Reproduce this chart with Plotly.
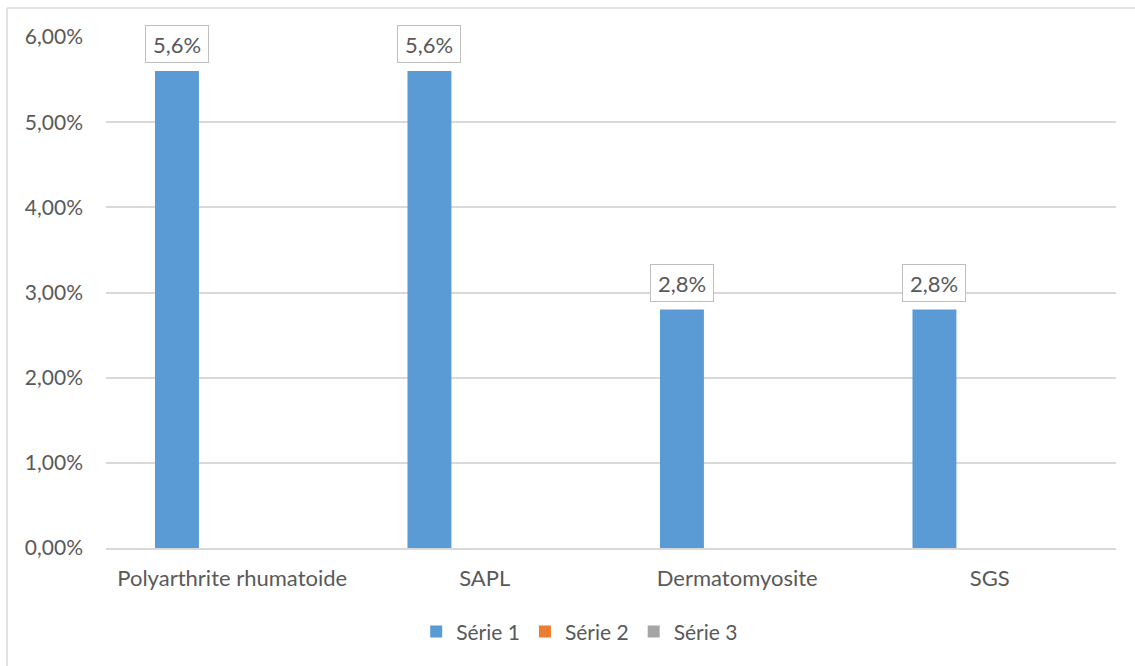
import plotly.graph_objects as go

categories = ["Polyarthrite rhumatoide", "SAPL", "Dermatomyosite", "SGS"]
serie1 = [5.6, 5.6, 2.8, 2.8]
serie2 = [0, 0, 0, 0]
serie3 = [0, 0, 0, 0]
labels1 = ["5,6%", "5,6%", "2,8%", "2,8%"]
y_ticks = [0, 1, 2, 3, 4, 5, 6]
y_tick_text = ["0,00%", "1,00%", "2,00%", "3,00%", "4,00%", "5,00%", "6,00%"]

series = [("Série 1", serie1, "#5B9BD5"),
          ("Série 2", serie2, "#ED7D31"),
          ("Série 3", serie3, "#A5A5A5")]

FONT = "Lato, 'Open Sans', sans-serif"
TXT = "#595959"
GRID = "#D9D9D9"

bar_w = 0.174
first_off = -0.306

fig = go.Figure()
for i, (name, vals, col) in enumerate(series):
    fig.add_trace(go.Bar(
        x=categories, y=vals, name=name,
        marker=dict(color=col, line=dict(width=0)),
        width=bar_w, offset=first_off + i * bar_w,
    ))

# boxed value labels above the first series
for idx, (v, t) in enumerate(zip(serie1, labels1)):
    fig.add_annotation(
        x=idx + first_off + bar_w / 2, y=v, xref="x", yref="y",
        text=t, showarrow=False, yanchor="bottom", yshift=8,
        font=dict(family=FONT, size=22, color=TXT),
        bordercolor="#BFBFBF", borderwidth=1, borderpad=2,
        bgcolor="white", width=58, height=32,
    )

# chart-area frame: top and left edges
fig.add_shape(type="line", xref="paper", yref="paper",
              x0=-0.098, x1=1.03, y0=1.0568, y1=1.0568,
              line=dict(color=GRID, width=1.5), layer="below")
fig.add_shape(type="line", xref="paper", yref="paper",
              x0=-0.098, x1=-0.098, y0=1.0568, y1=-0.24,
              line=dict(color=GRID, width=1.5), layer="below")

fig.update_layout(
    width=1135, height=666,
    margin=dict(l=106, r=19, t=37, b=118),
    paper_bgcolor="white", plot_bgcolor="white",
    barmode="group",
    font=dict(family=FONT, size=22, color=TXT),
    xaxis=dict(showgrid=False, showline=True, linecolor=GRID, linewidth=1.5,
               ticks="", tickfont=dict(size=22, color=TXT), ticklabelstandoff=10,
               zeroline=False),
    yaxis=dict(range=[0, 6], tickvals=y_ticks, ticktext=y_tick_text,
               showgrid=True, gridcolor=GRID, gridwidth=1.5, zeroline=False,
               showline=False, ticks="", ticklabelstandoff=22,
               tickfont=dict(size=21, color=TXT)),
    legend=dict(orientation="h", x=0.469, xanchor="center", y=-0.164,
                yanchor="middle", font=dict(size=21, color=TXT),
                itemwidth=30, traceorder="normal"),
    showlegend=True,
)

fig.write_html("out.html")
